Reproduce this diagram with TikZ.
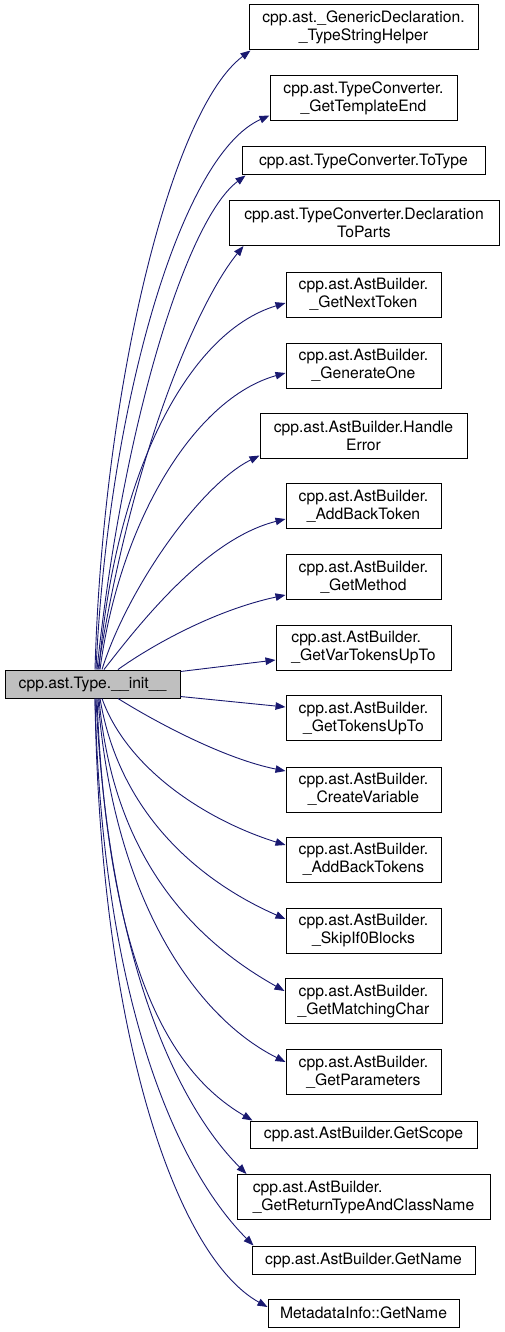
\documentclass[tikz,border=0pt]{standalone}
\usepackage{fontspec}
\setmainfont{TeX Gyre Heros}
\usetikzlibrary{arrows.meta,calc}
\definecolor{mblue}{HTML}{191970}
\definecolor{srcgray}{HTML}{BFBFBF}
\begin{document}
\begin{tikzpicture}[x=1pt,y=-1pt,
  box/.style={draw=black, line width=1pt, fill=white, inner sep=0pt,
    minimum height=45pt, align=center, font=\fontsize{15.7}{18}\selectfont},
  lbox/.style={box, align=left},
  sbox/.style={box, minimum height=28pt},
  srcbox/.style={sbox, fill=srcgray},
  call/.style={draw=mblue, line width=0.9pt, -{Triangle[length=10pt,width=7.5pt]}}]
\useasboundingbox (0,0) rectangle (504,1332);

\node[box, minimum width=229pt] (n1) at (363.5,27.5) {cpp.ast.\_GenericDeclaration.\\\_TypeStringHelper};
\node[box, minimum width=187pt] (n2) at (363.5,98.5) {cpp.ast.TypeConverter.\\\_GetTemplateEnd};
\node[sbox, minimum width=243pt] (n3) at (363.5,161) {cpp.ast.TypeConverter.ToType};
\node[box, minimum width=270pt] (n4) at (364,223) {cpp.ast.TypeConverter.Declaration\\ToParts};
\node[box, minimum width=155pt] (n5) at (363.5,294.5) {cpp.ast.AstBuilder.\\\_GetNextToken};
\node[box, minimum width=155pt] (n6) at (363.5,365.5) {cpp.ast.AstBuilder.\\\_GenerateOne};
\node[box, minimum width=207pt] (n7) at (363.5,435.5) {cpp.ast.AstBuilder.Handle\\Error};
\node[box, minimum width=155pt] (n8) at (363.5,506) {cpp.ast.AstBuilder.\\\_AddBackToken};
\node[box, minimum width=155pt] (n9) at (363.5,577) {cpp.ast.AstBuilder.\\\_GetMethod};
\node[lbox, minimum width=175pt] (n10) at (363.5,647.5) {cpp.ast.AstBuilder.\\\_GetVarTokensUpTo};
\node[srcbox, minimum width=175pt] (src) at (92.5,684) {cpp.ast.Type.\_\_init\_\_};
\node[box, minimum width=155pt] (n11) at (363.5,718) {cpp.ast.AstBuilder.\\\_GetTokensUpTo};
\node[box, minimum width=155pt] (n12) at (363.5,789.5) {cpp.ast.AstBuilder.\\\_CreateVariable};
\node[box, minimum width=155pt] (n13) at (363.5,859.5) {cpp.ast.AstBuilder.\\\_AddBackTokens};
\node[box, minimum width=155pt] (n14) at (363.5,930.5) {cpp.ast.AstBuilder.\\\_SkipIf0Blocks};
\node[box, minimum width=157pt] (n15) at (363.5,1001) {cpp.ast.AstBuilder.\\\_GetMatchingChar};
\node[box, minimum width=155pt] (n16) at (363.5,1072) {cpp.ast.AstBuilder.\\\_GetParameters};
\node[sbox, minimum width=227pt, minimum height=27pt] (n17) at (363.5,1134.5) {cpp.ast.AstBuilder.GetScope};
\node[lbox, minimum width=253pt] (n18) at (363.5,1197) {cpp.ast.AstBuilder.\\\_GetReturnTypeAndClassName};
\node[sbox, minimum width=223pt] (n19) at (363.5,1260) {cpp.ast.AstBuilder.GetName};
\node[sbox, minimum width=191pt] (n20) at (363.5,1313) {MetadataInfo::GetName};

% upward calls
\draw[call] ($(src.north)+(2.5,0)$) .. controls +(8,-280) and +(-80,60) .. ($(n1.south west)+(2,0)$);
\draw[call] ($(src.north)+(3.5,0)$) .. controls +(12,-260) and +(-90,40) .. ($(n2.south west)+(0,-6)$);
\draw[call] ($(src.north)+(4.5,0)$) .. controls +(25,-240) and +(-60,45) .. ($(n3.south west)+(4,0)$);
\draw[call] ($(src.north)+(5.5,0)$) .. controls +(35,-220) and +(-45,55) .. ($(n4.south west)+(15,0)$);
\draw[call] ($(src.north)+(6.5,0)$) .. controls +(15,-190) and +(-100,30) .. ($(n5.west)+(0,8.5)$);
\draw[call] ($(src.north)+(7.5,0)$) .. controls +(20,-150) and +(-90,25) .. ($(n6.west)+(0,7.5)$);
\draw[call] ($(src.north)+(9.5,0)$) .. controls +(25,-80) and +(-60,30) .. ($(n7.south west)+(0,-3)$);
\draw[call] ($(src.north)+(11.5,0)$) .. controls +(35,-45) and +(-80,20) .. ($(n8.west)+(0,13)$);
\draw[call] ($(src.north)+(25.5,0)$) .. controls +(35,-25) and +(-70,15) .. ($(n9.west)+(0,18)$);
\draw[call] ($(src.north east)+(0,2)$) -- ($(n10.west)+(0,12.5)$);
% downward calls
\draw[call] ($(src.south east)+(0,-2)$) -- ($(n11.west)+(0,-11)$);
\draw[call] ($(src.south)+(25.5,0)$) .. controls +(40,25) and +(-60,-12) .. ($(n12.west)+(0,-18.5)$);
\draw[call] ($(src.south)+(9.5,0)$) .. controls +(25,70) and +(-80,-25) .. ($(n13.west)+(0,-14.5)$);
\draw[call] ($(src.south)+(7.5,0)$) .. controls +(20,120) and +(-80,-35) .. ($(n14.west)+(0,-11.5)$);
\draw[call] ($(src.south)+(6.5,0)$) .. controls +(15,170) and +(-80,-45) .. ($(n15.west)+(0,-10)$);
\draw[call] ($(src.south)+(5.5,0)$) .. controls +(15,200) and +(-90,-45) .. ($(n16.west)+(0,-10)$);
\draw[call] ($(src.south)+(4.5,0)$) .. controls +(11,292) and +(-70,-41) .. ($(n17.north west)+(3,0)$);
\draw[call] ($(src.south)+(3.5,0)$) .. controls +(12,260) and +(-70,-70) .. ($(n18.north west)+(10,0)$);
\draw[call] ($(src.south)+(2.5,0)$) .. controls +(8,320) and +(-70,-70) .. ($(n19.north west)+(2,0)$);
\draw[call] ($(src.south)+(2.5,0)$) .. controls +(5,340) and +(-90,-50) .. ($(n20.west)+(0,-6)$);
\end{tikzpicture}
\end{document}
